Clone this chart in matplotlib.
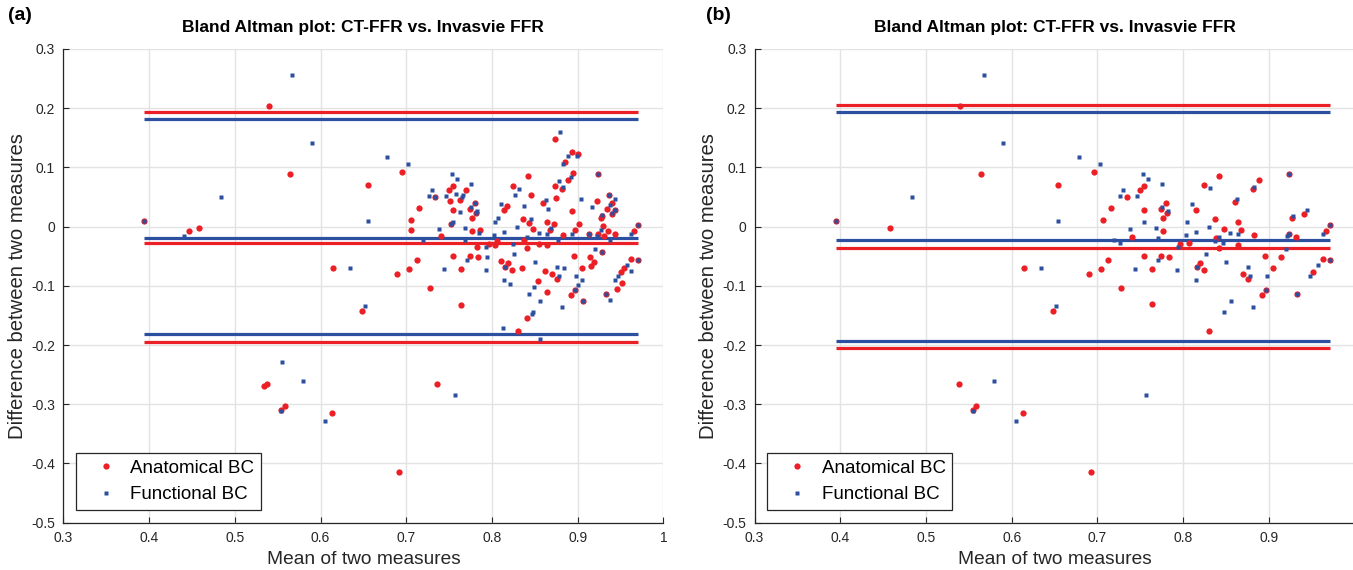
import numpy as np
import matplotlib
matplotlib.use('Agg')
import matplotlib.pyplot as plt
from matplotlib.lines import Line2D

plt.rcParams['font.family'] = ['Liberation Sans', 'DejaVu Sans']
plt.rcParams['axes.unicode_minus'] = False

# ---- panel (a): (mean, difference) pairs ----
a_anatomical = [
    (0.394, 0.010), (0.540, 0.203), (0.564, 0.0885), (0.655, 0.070), (0.446, -0.007),
    (0.458, -0.003), (0.614, -0.070), (0.648, -0.142), (0.534, -0.269), (0.538, -0.265),
    (0.558, -0.303), (0.554, -0.310), (0.613, -0.314), (0.692, -0.415), (0.736, -0.265),
    (0.695, 0.092), (0.7546, 0.069), (0.750, 0.0615), (0.770, 0.0615), (0.734, 0.0507),
    (0.751, 0.044), (0.763, 0.0456), (0.780, 0.0405), (0.715, 0.032), (0.7546, 0.0287),
    (0.7745, 0.030), (0.781, 0.023), (0.777, 0.015), (0.706, 0.012), (0.752, 0.005),
    (0.706, -0.0056), (0.777, -0.0068), (0.786, -0.005), (0.740, -0.0157), (0.824, 0.069),
    (0.818, 0.0355), (0.8145, 0.0287), (0.7826, -0.034), (0.796, -0.030), (0.803, -0.031),
    (0.806, -0.025), (0.7546, -0.0495), (0.7745, -0.0495), (0.7838, -0.051), (0.712, -0.056),
    (0.811, -0.058), (0.819, -0.062), (0.8156, -0.068), (0.8238, -0.0737), (0.6896, -0.080),
    (0.7036, -0.072), (0.7639, -0.072), (0.7274, -0.104), (0.7639, -0.132), (0.8308, -0.177),
    (0.873, 0.148), (0.8935, 0.1256), (0.9005, 0.123), (0.885, 0.110), (0.8946, 0.090),
    (0.9238, 0.0885), (0.8418, 0.085), (0.8888, 0.078), (0.8733, 0.068), (0.8815, 0.063),
    (0.846, 0.054), (0.8744, 0.049), (0.937, 0.054), (0.922, 0.044), (0.9405, 0.0405),
    (0.860, 0.0405), (0.8935, 0.027), (0.934, 0.030), (0.9436, 0.0287), (0.9405, 0.022),
    (0.9285, 0.0186), (0.9273, 0.015), (0.8366, 0.0135), (0.843, 0.0068), (0.864, 0.0085),
    (0.872, 0.005), (0.9016, 0.005), (0.930, 0.0017), (0.8476, -0.0034), (0.8674, -0.005),
    (0.897, -0.005), (0.9358, -0.0068), (0.9708, 0.003), (0.966, -0.0068), (0.8826, -0.0135),
    (0.9133, -0.0123), (0.924, -0.0123), (0.931, -0.016), (0.944, -0.012), (0.8378, -0.0225),
    (0.8546, -0.030), (0.864, -0.031), (0.8413, -0.036), (0.9285, -0.0427), (0.8958, -0.0495),
    (0.9145, -0.051), (0.919, -0.0596), (0.905, -0.070), (0.9156, -0.067), (0.9627, -0.0546),
    (0.9708, -0.056), (0.9545, -0.070), (0.951, -0.077), (0.952, -0.0956), (0.946, -0.106),
    (0.8348, -0.070), (0.8616, -0.0753), (0.8698, -0.080), (0.8756, -0.089), (0.8534, -0.0922),
    (0.897, -0.1075), (0.892, -0.116), (0.864, -0.111), (0.9063, -0.126), (0.9335, -0.114),
    (0.8413, -0.155),
]
a_functional = [
    (0.567, 0.256), (0.590, 0.141), (0.484, 0.0497), (0.394, 0.010), (0.655, 0.010),
    (0.441, -0.016), (0.634, -0.070), (0.652, -0.134), (0.555, -0.229), (0.579, -0.261),
    (0.554, -0.311), (0.605, -0.329), (0.757, -0.284), (0.678, 0.117), (0.702, 0.105),
    (0.753, 0.0885), (0.759, 0.080), (0.776, 0.0716), (0.730, 0.0615), (0.726, 0.0524),
    (0.734, 0.0507), (0.746, 0.052), (0.758, 0.0557), (0.766, 0.054), (0.765, 0.0507),
    (0.780, 0.0405), (0.776, 0.034), (0.763, 0.0253), (0.783, 0.027), (0.781, 0.023),
    (0.752, 0.005), (0.754, 0.008), (0.738, -0.0034), (0.7686, -0.0017), (0.785, -0.0107),
    (0.832, 0.064), (0.827, 0.054), (0.810, 0.039), (0.8075, 0.015), (0.804, 0.0085),
    (0.8297, 0.0), (0.8145, -0.009), (0.8028, -0.0135), (0.719, -0.0225), (0.7686, -0.0225),
    (0.7935, -0.034), (0.825, -0.030), (0.7946, -0.051), (0.771, -0.056), (0.826, -0.046),
    (0.8156, -0.068), (0.7437, -0.072), (0.7931, -0.0737), (0.8145, -0.0905), (0.8215, -0.097),
    (0.8133, -0.172), (0.879, 0.160), (0.889, 0.119), (0.8993, 0.119), (0.8826, 0.105),
    (0.892, 0.0845), (0.9238, 0.0885), (0.878, 0.0767), (0.8826, 0.0665), (0.904, 0.047),
    (0.937, 0.054), (0.943, 0.047), (0.938, 0.037), (0.8628, 0.0456), (0.8378, 0.0355),
    (0.865, 0.030), (0.9168, 0.034), (0.9436, 0.0287), (0.9405, 0.023), (0.9285, 0.0195),
    (0.846, 0.0135), (0.8686, -0.0017), (0.9277, -0.005), (0.9708, 0.003), (0.9627, -0.012),
    (0.8546, -0.010), (0.864, -0.0123), (0.893, -0.0123), (0.9133, -0.0123), (0.922, -0.0157),
    (0.8413, -0.017), (0.8768, -0.0225), (0.938, -0.0225), (0.920, -0.0377), (0.9285, -0.0427),
    (0.9708, -0.056), (0.957, -0.0647), (0.9475, -0.084), (0.944, -0.0905), (0.9627, -0.0753),
    (0.850, -0.0596), (0.8756, -0.068), (0.884, -0.070), (0.8783, -0.0838), (0.898, -0.0838),
    (0.905, -0.0905), (0.9005, -0.099), (0.897, -0.1075), (0.8488, -0.102), (0.843, -0.114),
    (0.8558, -0.126), (0.9063, -0.126), (0.9335, -0.114), (0.938, -0.124), (0.8815, -0.136),
    (0.8476, -0.1446), (0.8464, -0.147), (0.8558, -0.189),
]
# upper limit, mean difference, lower limit
a_anatomical_lines = [0.194, -0.0275, -0.194]
a_functional_lines = [0.182, -0.019, -0.182]

# ---- panel (b) ----
b_anatomical = [
    (0.3946, 0.010), (0.540, 0.203), (0.5638, 0.0885), (0.6544, 0.070), (0.458, -0.003),
    (0.6144, -0.070), (0.6486, -0.142), (0.538, -0.265), (0.558, -0.303), (0.5545, -0.310),
    (0.613, -0.314), (0.6927, -0.415), (0.6957, 0.092), (0.7547, 0.069), (0.750, 0.0615),
    (0.7346, 0.0507), (0.7159, 0.032), (0.7547, 0.0287), (0.7745, 0.030), (0.7804, 0.0405),
    (0.7816, 0.023), (0.777, 0.015), (0.706, 0.012), (0.777, -0.0068), (0.740, -0.017),
    (0.824, 0.070), (0.8147, 0.0287), (0.796, -0.029), (0.8065, -0.027), (0.7547, -0.0495),
    (0.7745, -0.0495), (0.7839, -0.051), (0.7124, -0.056), (0.7038, -0.072), (0.764, -0.072),
    (0.6898, -0.080), (0.8159, -0.068), (0.8194, -0.062), (0.824, -0.0737), (0.7275, -0.104),
    (0.764, -0.131), (0.830, -0.177), (0.8419, 0.085), (0.889, 0.078), (0.8817, 0.063),
    (0.924, 0.089), (0.8605, 0.041), (0.9407, 0.022), (0.9274, 0.015), (0.8367, 0.0135),
    (0.864, 0.0085), (0.8477, -0.0034), (0.8676, -0.005), (0.883, -0.0135), (0.8384, -0.020),
    (0.971, 0.0034), (0.9664, -0.0073), (0.924, -0.0123), (0.9314, -0.017), (0.864, -0.031),
    (0.8419, -0.036), (0.896, -0.0495), (0.9146, -0.051), (0.9053, -0.070), (0.870, -0.080),
    (0.876, -0.089), (0.897, -0.1075), (0.8924, -0.116), (0.9332, -0.114), (0.9632, -0.0546),
    (0.971, -0.056), (0.9512, -0.077),
]
b_functional = [
    (0.5677, 0.256), (0.590, 0.141), (0.484, 0.0497), (0.3946, 0.010), (0.6544, 0.010),
    (0.6346, -0.070), (0.652, -0.134), (0.579, -0.261), (0.5545, -0.311), (0.605, -0.329),
    (0.757, -0.284), (0.678, 0.117), (0.7027, 0.105), (0.7536, 0.0885), (0.7594, 0.080),
    (0.7757, 0.0716), (0.730, 0.0615), (0.7264, 0.0524), (0.7466, 0.052), (0.7757, 0.034),
    (0.7827, 0.027), (0.7547, 0.0085), (0.738, -0.0034), (0.7687, -0.0017), (0.719, -0.0225),
    (0.7707, -0.020), (0.8314, 0.065), (0.810, 0.039), (0.8042, 0.0085), (0.830, 0.0),
    (0.8147, -0.009), (0.803, -0.0135), (0.7264, -0.028), (0.7937, -0.034), (0.771, -0.056),
    (0.7442, -0.072), (0.7933, -0.0737), (0.8264, -0.046), (0.8159, -0.068), (0.8147, -0.0905),
    (0.8829, 0.0665), (0.924, 0.089), (0.863, 0.046), (0.944, 0.0287), (0.9286, 0.0186),
    (0.855, -0.010), (0.8644, -0.0123), (0.8415, -0.017), (0.971, 0.0034), (0.9629, -0.012),
    (0.924, -0.0123), (0.9216, -0.0157), (0.8368, -0.025), (0.8466, -0.028), (0.9204, -0.0377),
    (0.850, -0.0596), (0.876, -0.068), (0.8784, -0.0838), (0.8983, -0.0838), (0.897, -0.1075),
    (0.9332, -0.114), (0.8559, -0.126), (0.8819, -0.136), (0.8477, -0.1446), (0.971, -0.056),
    (0.957, -0.0647), (0.9477, -0.0838),
]
b_anatomical_lines = [0.206, -0.0365, -0.205]
b_functional_lines = [0.193, -0.023, -0.193]

x_ticks = [0.3, 0.4, 0.5, 0.6, 0.7, 0.8, 0.9, 1.0]
x_ticklabels_a = ['0.3', '0.4', '0.5', '0.6', '0.7', '0.8', '0.9', '1']
# the "1" of panel (b) falls off the right edge of the figure in the original
x_ticklabels_b = ['0.3', '0.4', '0.5', '0.6', '0.7', '0.8', '0.9', '']
y_ticks = [-0.5, -0.4, -0.3, -0.2, -0.1, 0, 0.1, 0.2, 0.3]
y_ticklabels = ['-0.5', '-0.4', '-0.3', '-0.2', '-0.1', '0', '0.1', '0.2', '0.3']

RED = '#ec1f26'
BLUE = '#2d4f9f'


def draw_panel(ax, anat, func, anat_lines, func_lines, xlabels):
    anat = np.array(anat)
    func = np.array(func)
    allx = np.concatenate([anat[:, 0], func[:, 0]])
    x0, x1 = allx.min(), allx.max()

    for v in anat_lines:
        ax.hlines(v, x0, x1, color=RED, lw=2.3, zorder=2)
    for v in func_lines:
        ax.hlines(v, x0, x1, color=BLUE, lw=2.3, zorder=2)

    ax.plot(anat[:, 0], anat[:, 1], 'o', color=RED, ms=4.5, mec='none', zorder=3)
    ax.plot(func[:, 0], func[:, 1], 's', color=BLUE, ms=2.4, mec='none', zorder=4)

    ax.set_xlim(0.3, 1.0)
    ax.set_ylim(-0.5, 0.3)
    ax.set_xticks(x_ticks)
    ax.set_xticklabels(xlabels)
    ax.set_yticks(y_ticks)
    ax.set_yticklabels(y_ticklabels)
    ax.grid(True, color='#e3e3e3', lw=1.0, zorder=0)
    ax.set_axisbelow(True)
    for s in ['top', 'right']:
        ax.spines[s].set_visible(False)
    for s in ['left', 'bottom']:
        ax.spines[s].set_color('#262626')
        ax.spines[s].set_linewidth(0.9)
    ax.tick_params(direction='in', length=4, width=0.8, labelsize=10, colors='#262626', pad=6)

    ax.set_title('Bland Altman plot: CT-FFR vs. Invasvie FFR', fontsize=12.5, fontweight='bold', pad=12)
    ax.set_xlabel('Mean of two measures', fontsize=13.8, color='#262626', labelpad=4)
    ax.set_ylabel('Difference between two measures', fontsize=14.6, color='#262626', labelpad=3)

    handles = [Line2D([], [], ls='none', marker='o', color=RED, ms=4.5, mec='none'),
               Line2D([], [], ls='none', marker='s', color=BLUE, ms=2.4, mec='none')]
    leg = ax.legend(handles, ['Anatomical BC', 'Functional BC'], loc='lower left',
                    bbox_to_anchor=(0.021, 0.027), borderaxespad=0, fontsize=13.5,
                    fancybox=False, framealpha=1, edgecolor='#262626', borderpad=0.35,
                    labelspacing=0.5, handlelength=2.5, handletextpad=0.05)
    leg.get_frame().set_linewidth(0.9)


fig = plt.figure(figsize=(13.53, 5.70), dpi=100)
ax_a = fig.add_axes([63.4 / 1353, 47.3 / 570, 600 / 1353, 473.7 / 570])
ax_b = fig.add_axes([754.6 / 1353, 47.3 / 570, 600 / 1353, 473.7 / 570])

draw_panel(ax_a, a_anatomical, a_functional, a_anatomical_lines, a_functional_lines, x_ticklabels_a)
draw_panel(ax_b, b_anatomical, b_functional, b_anatomical_lines, b_functional_lines, x_ticklabels_b)

fig.text(8 / 1353, 1 - 16 / 570, '(a)', fontsize=14, fontweight='bold', va='center', ha='left')
fig.text(706 / 1353, 1 - 16 / 570, '(b)', fontsize=14, fontweight='bold', va='center', ha='left')

fig.savefig('out.png', dpi=100)
